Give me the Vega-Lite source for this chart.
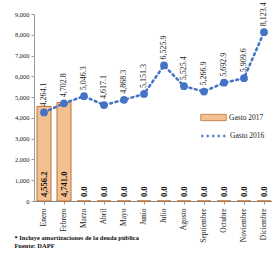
{
  "$schema": "https://vega.github.io/schema/vega-lite/v6.json",
  "autosize": "none",
  "width": 240,
  "height": 187,
  "padding": {"left": 34, "top": 14, "right": 0, "bottom": 56},
  "background": "white",
  "config": {
    "view": {"stroke": null},
    "font": "Liberation Serif",
    "axis": {"labelFont": "Liberation Serif", "labelColor": "#222", "domainColor": "#999", "tickColor": "#999"}
  },
  "title": {
    "text": ["* Incluye amortizaciones de la deuda pública", "Fuente: DAPF"],
    "orient": "bottom",
    "anchor": "start",
    "frame": "bounds",
    "offset": -7,
    "font": "Liberation Serif",
    "fontSize": 6.5,
    "fontWeight": "bold",
    "lineHeight": 7.5,
    "color": "#111"
  },
  "data": {
    "values": [
      {"mes": "Enero", "g2017": 4556.2, "g2016": 4264.1},
      {"mes": "Febrero", "g2017": 4741.0, "g2016": 4702.8},
      {"mes": "Marzo", "g2017": 0.0, "g2016": 5046.3},
      {"mes": "Abril", "g2017": 0.0, "g2016": 4617.1},
      {"mes": "Mayo", "g2017": 0.0, "g2016": 4868.3},
      {"mes": "Junio", "g2017": 0.0, "g2016": 5151.3},
      {"mes": "Julio", "g2017": 0.0, "g2016": 6525.9},
      {"mes": "Agosto", "g2017": 0.0, "g2016": 5525.4},
      {"mes": "Septiembre", "g2017": 0.0, "g2016": 5266.9},
      {"mes": "Octubre", "g2017": 0.0, "g2016": 5692.9},
      {"mes": "Noviembre", "g2017": 0.0, "g2016": 5909.6},
      {"mes": "Diciembre", "g2017": 0.0, "g2016": 8123.4}
    ]
  },
  "transform": [
    {"calculate": "'Gasto 2017'", "as": "s17"},
    {"calculate": "'Gasto 2016'", "as": "s16"}
  ],
  "encoding": {
    "x": {
      "field": "mes", "type": "nominal", "sort": null, "title": null,
      "scale": {"paddingInner": 0.3, "paddingOuter": 0.15},
      "axis": {"labelAngle": -90, "labelFontSize": 7.5, "labelPadding": 4, "tickSize": 3, "domainColor": "#888"}
    },
    "y": {
      "type": "quantitative",
      "scale": {"domain": [0, 9000]},
      "axis": {"title": null, "values": [0,1000,2000,3000,4000,5000,6000,7000,8000,9000], "format": ",d", "labelFontSize": 6.5, "tickSize": 3, "grid": false, "labelPadding": 2}
    }
  },
  "layer": [
    {
      "mark": {"type": "bar", "stroke": "#b8733a", "strokeWidth": 1},
      "encoding": {
        "y": {"field": "g2017"},
        "fill": {
          "field": "s17", "type": "nominal", "title": null,
          "scale": {"range": ["#f5c08f"]},
          "legend": {"orient": "none", "legendX": 166, "legendY": 90, "symbolType": "M-1,-0.25H1V0.25H-1Z", "symbolSize": 650, "symbolStrokeColor": "#b8733a", "symbolStrokeWidth": 0.8, "labelFont": "Liberation Serif", "labelFontSize": 7.5, "labelColor": "#222", "labelOffset": 2}
        }
      }
    },
    {
      "mark": {"type": "line", "strokeWidth": 2.5, "strokeDash": [2, 3.5], "strokeCap": "round"},
      "encoding": {
        "y": {"field": "g2016"},
        "stroke": {
          "field": "s16", "type": "nominal", "title": null,
          "scale": {"range": ["#4472c4"]},
          "legend": {"orient": "none", "legendX": 166, "legendY": 108, "symbolType": "stroke", "symbolSize": 650, "symbolStrokeWidth": 2.5, "symbolDash": [2, 3.5], "labelFont": "Liberation Serif", "labelFontSize": 7.5, "labelColor": "#222", "labelOffset": 2}
        }
      }
    },
    {
      "mark": {"type": "point", "filled": true, "color": "#4472c4", "size": 60, "opacity": 1},
      "encoding": {"y": {"field": "g2016"}}
    },
    {
      "mark": {"type": "text", "angle": 270, "align": "left", "baseline": "middle", "dx": 6, "font": "Liberation Serif", "fontSize": 8, "color": "#222"},
      "encoding": {"y": {"field": "g2016"}, "text": {"field": "g2016", "type": "quantitative", "format": ",.1f"}}
    },
    {
      "mark": {"type": "text", "angle": 270, "align": "left", "baseline": "middle", "dx": 4, "font": "Liberation Serif", "fontSize": 8.5, "fontWeight": "bold", "color": "#111"},
      "encoding": {"y": {"datum": 0}, "text": {"field": "g2017", "type": "quantitative", "format": ",.1f"}}
    }
  ]
}
